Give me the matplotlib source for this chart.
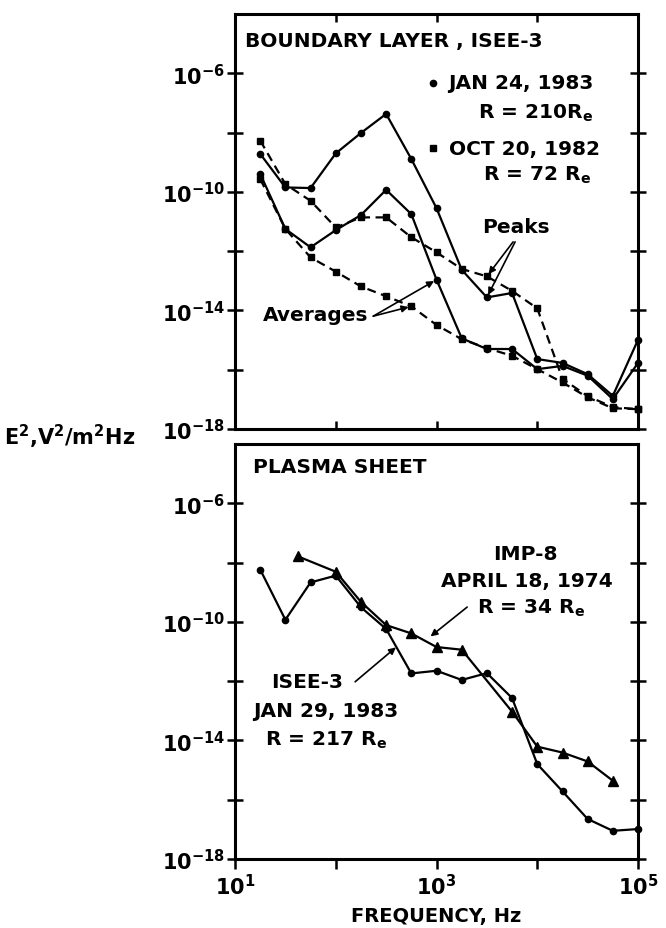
import numpy as np
import matplotlib
matplotlib.use('Agg')
import matplotlib.pyplot as plt
from matplotlib.ticker import FixedLocator, NullLocator

plt.rcParams['font.family'] = ['DejaVu Sans']
plt.rcParams['font.weight'] = 'bold'
plt.rcParams['axes.labelweight'] = 'bold'
plt.rcParams['mathtext.fontset'] = 'custom'
plt.rcParams['mathtext.rm'] = 'DejaVu Sans:bold'
plt.rcParams['mathtext.it'] = 'DejaVu Sans:bold'
plt.rcParams['mathtext.bf'] = 'DejaVu Sans:bold'

# --- data (log10 of E^2, V^2/m^2Hz) ---
freq_isee = [17.8, 31.6, 56.2, 100, 178, 316, 562, 1000, 1780, 3160,
             5620, 10000, 17800, 31600, 56200, 100000]

# boundary layer, ISEE-3
jan24_peak = [-8.72, -9.85, -9.87, -8.70, -8.01, -7.37, -8.89, -10.55,
              -12.63, -13.56, -13.41, -15.64, -15.77, -16.15, -16.88, -14.99]
jan24_avg = [-9.40, -11.25, -11.87, -11.29, -10.78, -9.93, -10.75, -12.96,
             -14.94, -15.30, -15.30, -15.98, -15.87, -16.20, -16.99, -15.77]
oct20_peak = [-8.27, -9.74, -10.30, -11.20, -10.86, -10.86, -11.53, -12.04,
              -12.60, -12.85, -13.34, -13.93, -16.31, -16.89, -17.26, -17.33]
oct20_avg = [-9.57, -11.25, -12.21, -12.69, -13.19, -13.52, -13.86, -14.49,
             -14.97, -15.27, -15.53, -15.98, -16.43, -16.93, -17.30, -17.33]

# plasma sheet
jan29 = [-8.24, -9.93, -8.67, -8.44, -9.51, -10.24, -11.74, -11.65,
         -11.96, -11.73, -12.57, -14.80, -15.72, -16.65, -17.05, -16.99]
freq_imp = [42, 100, 178, 316, 562, 1000, 1780, 5620, 10000, 17800, 31600, 56200]
imp8 = [-7.79, -8.31, -9.33, -10.11, -10.39, -10.85, -10.94, -13.03,
        -14.21, -14.41, -14.71, -15.36]

ytick_vals = [1e-18, 1e-16, 1e-14, 1e-12, 1e-10, 1e-8, 1e-6]
ytick_labels = [r'$10^{-18}$', '', r'$10^{-14}$', '', r'$10^{-10}$', '', r'$10^{-6}$']
xtick_vals = [1e1, 1e2, 1e3, 1e4, 1e5]
xtick_labels = [r'$10^1$', '', r'$10^3$', '', r'$10^5$']

def E(v):
    return 10.0 ** np.array(v)

fig = plt.figure(figsize=(6.66, 9.29), dpi=100)
ax1 = fig.add_axes([0.3529, 0.5371, 0.6051, 0.4467])
ax2 = fig.add_axes([0.3529, 0.0743, 0.6051, 0.4467])

lw = 1.6
dash = (4, 2.5)

def setup(ax):
    ax.set_xscale('log')
    ax.set_yscale('log')
    ax.set_xlim(1e1, 1e5)
    ax.set_ylim(1e-18, 1e-4)
    for s in ax.spines.values():
        s.set_linewidth(2.2)
    ax.yaxis.set_major_locator(FixedLocator(ytick_vals))
    ax.set_yticklabels(ytick_labels)
    ax.yaxis.set_minor_locator(NullLocator())
    ax.xaxis.set_major_locator(FixedLocator(xtick_vals))
    ax.xaxis.set_minor_locator(NullLocator())
    ax.tick_params(axis='y', which='major', direction='inout', length=12,
                   width=1.8, left=True, right=True, labelsize=15, pad=1)

setup(ax1)
setup(ax2)

ax1.tick_params(axis='x', direction='in', length=6, width=1.8, top=True,
                bottom=True, labelbottom=False)
ax2.tick_params(axis='x', direction='out', length=7, width=1.8, top=False,
                bottom=True, labelsize=15, pad=3)
ax2.set_xticklabels(xtick_labels)

# top panel
kw = dict(color='k', lw=lw, clip_on=False)
ax1.plot(freq_isee, E(jan24_peak), '-o', ms=4.5, **kw)
ax1.plot(freq_isee, E(jan24_avg), '-o', ms=4.5, **kw)
ax1.plot(freq_isee, E(oct20_peak), '--s', ms=4.5, dashes=dash, **kw)
ax1.plot(freq_isee, E(oct20_avg), '--s', ms=4.5, dashes=dash, **kw)

fs = 14.5
ax1.text(0.025, 0.937, 'BOUNDARY LAYER , ISEE-3', transform=ax1.transAxes,
         fontsize=fs, ha='left', va='center')
ax1.plot([0.491], [0.834], 'o', color='k', ms=4.5, transform=ax1.transAxes, clip_on=False)
ax1.text(0.529, 0.834, 'JAN 24, 1983', transform=ax1.transAxes, fontsize=fs,
         ha='left', va='center')
ax1.text(0.603, 0.764, r'R = 210R$_e$', transform=ax1.transAxes, fontsize=fs,
         ha='left', va='center')
ax1.plot([0.491], [0.677], 's', color='k', ms=5, transform=ax1.transAxes, clip_on=False)
ax1.text(0.531, 0.677, 'OCT 20, 1982', transform=ax1.transAxes, fontsize=fs,
         ha='left', va='center')
ax1.text(0.615, 0.614, r'R = 72 R$_e$', transform=ax1.transAxes, fontsize=fs,
         ha='left', va='center')

arrow = dict(arrowstyle='-|>', color='k', lw=1.2, mutation_scale=10,
             shrinkA=0, shrinkB=2)
ax1.text(0.697, 0.487, 'Peaks', transform=ax1.transAxes, fontsize=fs,
         ha='center', va='center')
ax1.annotate('', xy=(freq_isee[9], E(oct20_peak[9])), xycoords='data',
             xytext=(0.690, 0.451), textcoords='axes fraction', arrowprops=arrow)
ax1.annotate('', xy=(freq_isee[9], E(jan24_peak[9])), xycoords='data',
             xytext=(0.695, 0.451), textcoords='axes fraction', arrowprops=arrow)
ax1.text(0.201, 0.275, 'Averages', transform=ax1.transAxes, fontsize=fs,
         ha='center', va='center')
ax1.annotate('', xy=(freq_isee[7], E(jan24_avg[7])), xycoords='data',
             xytext=(0.343, 0.272), textcoords='axes fraction', arrowprops=arrow)
ax1.annotate('', xy=(freq_isee[6], E(oct20_avg[6])), xycoords='data',
             xytext=(0.343, 0.272), textcoords='axes fraction', arrowprops=arrow)

# bottom panel
ax2.plot(freq_isee, E(jan29), '-o', ms=4.5, **kw)
ax2.plot(freq_imp, E(imp8), '-^', ms=7, **kw)

ax2.text(0.045, 0.945, 'PLASMA SHEET', transform=ax2.transAxes, fontsize=fs,
         ha='left', va='center')
ax2.text(0.720, 0.735, 'IMP-8', transform=ax2.transAxes, fontsize=fs,
         ha='center', va='center')
ax2.text(0.725, 0.670, 'APRIL 18, 1974', transform=ax2.transAxes, fontsize=fs,
         ha='center', va='center')
ax2.text(0.735, 0.607, r'R = 34 R$_e$', transform=ax2.transAxes, fontsize=fs,
         ha='center', va='center')
ax2.annotate('', xy=(830, 10 ** -10.55), xycoords='data',
             xytext=(0.576, 0.607), textcoords='axes fraction', arrowprops=arrow)
ax2.text(0.179, 0.427, 'ISEE-3', transform=ax2.transAxes, fontsize=fs,
         ha='center', va='center')
ax2.text(0.226, 0.357, 'JAN 29, 1983', transform=ax2.transAxes, fontsize=fs,
         ha='center', va='center')
ax2.text(0.226, 0.289, r'R = 217 R$_e$', transform=ax2.transAxes, fontsize=fs,
         ha='center', va='center')
ax2.annotate('', xy=(415, 10 ** -10.8), xycoords='data',
             xytext=(0.298, 0.427), textcoords='axes fraction', arrowprops=arrow)

ax2.set_xlabel('FREQUENCY, Hz', fontsize=14, labelpad=6)
fig.text(0.006, 1 - 437 / 929, r'E$^2$,V$^2$/m$^2$Hz', fontsize=15,
         ha='left', va='center')

fig.savefig('out.png', dpi=100)
